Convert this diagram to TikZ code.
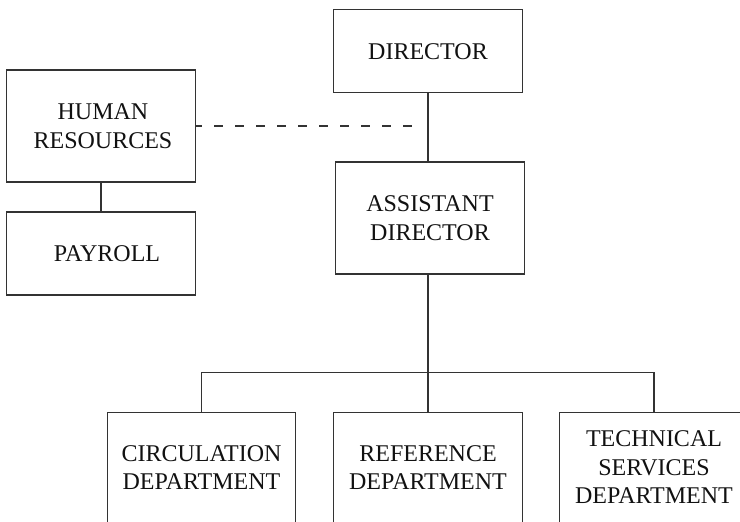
\documentclass[tikz,border=0pt]{standalone}
\usepackage{fontspec}
\setmainfont{Liberation Serif}
\definecolor{linegray}{HTML}{333333}
\definecolor{inkgray}{HTML}{111111}
\begin{document}
\begin{tikzpicture}[x=1pt,y=-1pt,
  box/.style={draw=linegray, line width=1.1pt, rectangle, inner sep=0pt,
    minimum width=188.5pt, align=center, text=inkgray,
    font=\fontsize{24}{28.5}\selectfont},
  link/.style={draw=linegray, line width=1.1pt},
  dashlink/.style={link, dash pattern=on 9pt off 12pt, dash phase=2.5pt}]
  \useasboundingbox (0,0) rectangle (740,522);
  \clip (0,0) rectangle (740,522);

  % management boxes
  \node[box, minimum height=83pt]  (dir)  at (428,51.3)  {DIRECTOR};
  \node[box, minimum height=112pt] (hr)   at (101,126)   {\hspace*{4pt}HUMAN\\\hspace*{4pt}RESOURCES};
  \node[box, minimum height=83pt]  (pay)  at (101,253.5) {\hspace*{12pt}PAYROLL};
  \node[box, minimum height=112pt] (asst) at (430,218)   {ASSISTANT\\DIRECTOR};

  % departments (run off the lower edge)
  \node[box, minimum height=110pt] (circ) at (201.5,467.5) {CIRCULATION\\DEPARTMENT};
  \node[box, minimum height=110pt] (ref)  at (428,467.5)   {REFERENCE\\DEPARTMENT};
  \node[box, minimum height=110pt] (tech) at (654,467.5)   {TECHNICAL\\SERVICES\\DEPARTMENT};

  % connectors
  \draw[link] (dir.south) -- (dir.south |- asst.north);
  \draw[link] (hr.south) -- (pay.north);
  \coordinate (dashend) at (418,126);
  \draw[dashlink] (hr.east) -- (dashend);
  \draw[link] (asst.south -| ref.north) -- (ref.north);
  \draw[link] (circ.north) -- ++(0,-39.5) -| (tech.north);
\end{tikzpicture}
\end{document}
